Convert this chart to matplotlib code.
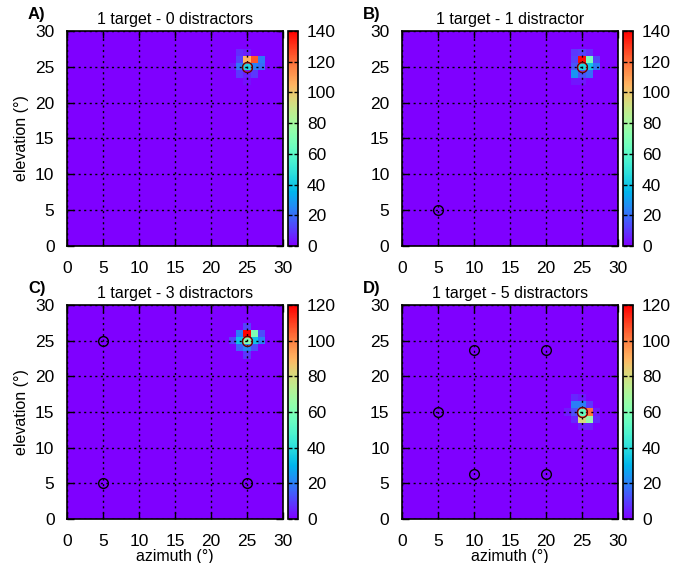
import numpy as np
import matplotlib
matplotlib.use("Agg")
import matplotlib.pyplot as plt

plt.rcParams['font.family'] = ['Liberation Sans', 'DejaVu Sans']

# ---------------- data ----------------
titles = ["1 target - 0 distractors", "1 target - 1 distractor",
          "1 target - 3 distractors", "1 target - 5 distractors"]
panel_labels = ["A)", "B)", "C)", "D)"]
cb_max = [140, 140, 120, 120]
cb_ticks = [[0, 20, 40, 60, 80, 100, 120, 140],
            [0, 20, 40, 60, 80, 100, 120, 140],
            [0, 20, 40, 60, 80, 100, 120],
            [0, 20, 40, 60, 80, 100, 120]]
axis_ticks = [0, 5, 10, 15, 20, 25, 30]

targets = [(25, 25), (25, 25), (25, 25), (25, 15)]
distractors_A = []
distractors_B = [(5, 5)]
distractors_C = [(5, 25), (5, 5), (25, 5)]
distractors_D = [(5, 15), (10, 23.66), (20, 23.66), (10, 6.34), (20, 6.34)]
distractors = [distractors_A, distractors_B, distractors_C, distractors_D]

# hotspot values: rows from top (high elevation) to bottom,
# columns azimuth 23..27 ; patch_top = elevation of first row
patch_cols = [23, 24, 25, 26, 27]
patch_A_top = 27
patch_A = [[0, 8, 6, 0, 0],
           [0, 12, 105, 125, 22],
           [4, 22, 45, 24, 20],
           [0, 10, 6, 10, 0],
           [0, 0, 3, 0, 0]]
patch_B_top = 27
patch_B = [[0, 10, 12, 8, 0],
           [0, 12, 138, 68, 12],
           [0, 15, 45, 40, 22],
           [0, 28, 15, 20, 0],
           [0, 4, 4, 0, 0]]
patch_C_top = 27
patch_C = [[0, 0, 10, 0, 0],
           [0, 20, 120, 60, 12],
           [10, 33, 60, 33, 20],
           [0, 15, 22, 12, 0],
           [0, 0, 8, 0, 0]]
patch_D_top = 17
patch_D = [[0, 6, 4, 0, 0],
           [0, 20, 20, 8, 0],
           [4, 12, 55, 102, 4],
           [0, 6, 80, 65, 6],
           [0, 0, 5, 5, 0]]
patches = [(patch_A_top, patch_A), (patch_B_top, patch_B),
           (patch_C_top, patch_C), (patch_D_top, patch_D)]

# ---------------- layout ----------------
W, H = 692, 563
fig = plt.figure(figsize=(W / 100, H / 100), dpi=100)

def fr(x0, y0, x1, y1):
    return [x0 / W, 1 - y1 / H, (x1 - x0) / W, (y1 - y0) / H]

ax_px = [(67, 31, 283, 246), (402, 31, 618, 246),
         (67, 305, 283, 519), (402, 305, 618, 519)]
cb_dx = (288, 298)

for i in range(4):
    x0, y0, x1, y1 = ax_px[i]
    ax = fig.add_axes(fr(x0, y0, x1, y1))
    grid = np.zeros((31, 31))
    top, patch = patches[i]
    for r, row in enumerate(patch):
        for c, v in enumerate(row):
            grid[top - r, patch_cols[c]] = v
    im = ax.imshow(grid, origin='lower', extent=[-0.5, 30.5, -0.5, 30.5],
                   cmap='rainbow', vmin=0, vmax=cb_max[i],
                   interpolation='nearest', aspect='auto')
    ax.set_xlim(0, 30)
    ax.set_ylim(0, 30)
    ax.set_xticks(axis_ticks)
    ax.set_yticks(axis_ticks)
    ax.tick_params(direction='in', top=True, right=True, length=5,
                   width=1, labelsize=12.5)
    ax.tick_params(axis='x', pad=11)
    ax.tick_params(axis='y', pad=9)
    ax.grid(True, color='black', linestyle=(0, (1.5, 2.5)), linewidth=1)
    ax.set_axisbelow(False)
    for s in ax.spines.values():
        s.set_linewidth(1.2)
    # markers
    for (dx, dy) in distractors[i]:
        ax.plot(dx, dy, 'o', mfc='none', mec='black', ms=7, mew=1, zorder=5)
    tx, ty = targets[i]
    ax.plot(tx, ty, 'o', mfc='none', mec='#c81010', ms=7, mew=1.1, zorder=5)
    ax.plot(tx, ty, 'o', mfc='none', mec='black', ms=7.5, mew=0.4, zorder=6)
    ax.set_title(titles[i], fontsize=11.5, pad=5)
    if i in (0, 2):
        ax.set_ylabel('elevation (°)', fontsize=11.5, labelpad=4)
    if i in (2, 3):
        ax.set_xlabel('azimuth (°)', fontsize=11.5, labelpad=-0.5)
    fig.text((x0 - 39) / W, 1 - (y0 - 16) / H, panel_labels[i],
             fontsize=12, fontweight='bold', ha='left', va='center')
    # colorbar
    cx0 = x0 + (cb_dx[0] - 67)
    cx1 = x0 + (cb_dx[1] - 67)
    cax = fig.add_axes(fr(cx0, y0, cx1, y1))
    cb = fig.colorbar(im, cax=cax, ticks=cb_ticks[i])
    cb.outline.set_linewidth(1.2)
    cax.tick_params(direction='in', left=True, right=True, length=3,
                    width=1, labelsize=12.5, pad=6.5)

fig.savefig('out.png', dpi=100)
